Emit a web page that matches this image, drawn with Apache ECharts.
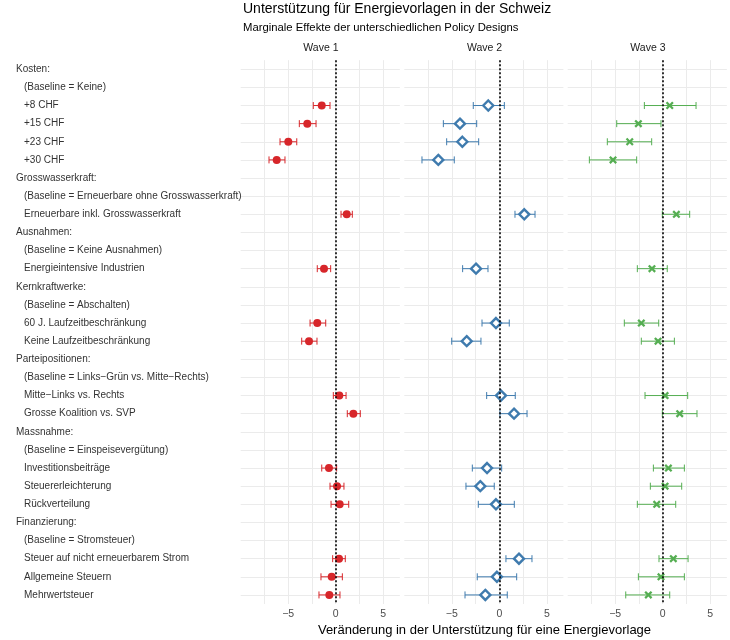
<!DOCTYPE html>
<html>
<head>
<meta charset="utf-8">
<script src="https://cdn.jsdelivr.net/npm/echarts@6/dist/echarts.min.js"></script>
<style>
html,body{margin:0;padding:0;background:#fff;}
#chart{width:730px;height:640px;}
</style>
</head>
<body>
<div id="chart"></div>
<script>
// ---- Data ----
const categories = [
  'Kosten:', '(Baseline = Keine)', '+8 CHF', '+15 CHF', '+23 CHF', '+30 CHF',
  'Grosswasserkraft:', '(Baseline = Erneuerbare ohne Grosswasserkraft)', 'Erneuerbare inkl. Grosswasserkraft',
  'Ausnahmen:', '(Baseline = Keine Ausnahmen)', 'Energieintensive Industrien',
  'Kernkraftwerke:', '(Baseline = Abschalten)', '60 J. Laufzeitbeschränkung', 'Keine Laufzeitbeschränkung',
  'Parteipositionen:', '(Baseline = Links\u2212Grün vs. Mitte\u2212Rechts)', 'Mitte\u2212Links vs. Rechts', 'Grosse Koalition vs. SVP',
  'Massnahme:', '(Baseline = Einspeisevergütung)', 'Investitionsbeiträge', 'Steuererleichterung', 'Rückverteilung',
  'Finanzierung:', '(Baseline = Stromsteuer)', 'Steuer auf nicht erneuerbarem Strom', 'Allgemeine Steuern', 'Mehrwertsteuer'
];
const isHeader = [1,0,0,0,0,0, 1,0,0, 1,0,0, 1,0,0,0, 1,0,0,0, 1,0,0,0,0, 1,0,0,0,0];
const waves = ['Wave 1', 'Wave 2', 'Wave 3'];
const xTicks = [-5, 0, 5];
const n = null;
const w1Est = [n,n,-1.47,-2.99,-4.99,-6.21, n,n,1.16, n,n,-1.23, n,n,-1.94,-2.81, n,n,0.38,1.86, n,n,-0.71,0.14,0.42, n,n,0.35,-0.42,-0.67];
const w1Lo  = [n,n,-2.36,-3.83,-5.86,-7.02, n,n,0.56, n,n,-1.94, n,n,-2.70,-3.58, n,n,-0.25,1.22, n,n,-1.47,-0.60,-0.49, n,n,-0.32,-1.55,-1.76];
const w1Hi  = [n,n,-0.60,-2.07,-4.10,-5.34, n,n,1.75, n,n,-0.53, n,n,-1.05,-1.97, n,n,1.09,2.59, n,n,0.10,0.87,1.37, n,n,1.01,0.70,0.45];
const w2Est = [n,n,-1.16,-4.14,-3.89,-6.42, n,n,2.63, n,n,-2.45, n,n,-0.35,-3.43, n,n,0.18,1.55, n,n,-1.29,-2.00,-0.35, n,n,2.07,-0.25,-1.47];
const w2Lo  = [n,n,-2.74,-5.89,-5.54,-8.14, n,n,1.65, n,n,-3.86, n,n,-1.82,-5.01, n,n,-1.33,0.07, n,n,-2.84,-3.51,-2.21, n,n,0.70,-2.32,-3.61];
const w2Hi  = [n,n,0.53,-2.38,-2.17,-4.74, n,n,3.76, n,n,-1.19, n,n,1.05,-1.93, n,n,1.68,2.92, n,n,0.25,-0.53,1.58, n,n,3.44,1.83,0.84];
const w3Est = [n,n,0.74,-2.56,-3.47,-5.23, n,n,1.44, n,n,-1.13, n,n,-2.25,-0.49, n,n,0.25,1.79, n,n,0.60,0.25,-0.63, n,n,1.12,-0.18,-1.51];
const w3Lo  = [n,n,-1.93,-4.84,-5.83,-7.72, n,n,-0.04, n,n,-2.67, n,n,-4.04,-2.25, n,n,-1.86,-0.04, n,n,-0.98,-1.30,-2.67, n,n,-0.39,-2.56,-3.89];
const w3Hi  = [n,n,3.51,-0.18,-1.16,-2.74, n,n,2.84, n,n,0.48, n,n,-0.42,1.23, n,n,2.63,3.61, n,n,2.28,2.00,1.37, n,n,2.67,2.28,0.74];

// ---- Styles ----
const FONT = 'Liberation Sans, Arial, sans-serif';
const colors = ['#D7262A', '#3F7BAE', '#55AE52'];
const xPath = 'path://M0,2 L2,0 L5,3 L8,0 L10,2 L7,5 L10,8 L8,10 L5,7 L2,10 L0,8 L3,5 Z';
const markerStyles = [
  {symbol: 'circle', symbolSize: 8, itemStyle: {color: colors[0], opacity: 1}},
  {symbol: 'diamond', symbolSize: 10, itemStyle: {color: '#ffffff', borderColor: colors[1], borderWidth: 2.4, opacity: 1}},
  {symbol: xPath, symbolSize: 8, itemStyle: {color: colors[2], opacity: 1}}
];
const est = [w1Est, w2Est, w3Est], lo = [w1Lo, w2Lo, w3Lo], hi = [w1Hi, w2Hi, w3Hi];

const pxPerUnit = 9.5;
const zeroX = [335.7, 499.3, 662.7];
const xMin = -10, xMax = 6.75;
const gridTop = 60.2, gridH = 543.8;

const grids = [], xAxes = [], yAxes = [], series = [], titles = [];
titles.push({text: 'Unterstützung für Energievorlagen in der Schweiz', left: 243, top: 2, padding: 0,
  textStyle: {fontFamily: FONT, fontSize: 14, fontWeight: 'normal', color: '#000'}});
titles.push({text: 'Marginale Effekte der unterschiedlichen Policy Designs', left: 243, top: 22, padding: 0,
  textStyle: {fontFamily: FONT, fontSize: 11.3, fontWeight: 'normal', color: '#000'}});

for (let k = 0; k < 3; k++) {
  const left = zeroX[k] + xMin * pxPerUnit;
  const width = (xMax - xMin) * pxPerUnit;
  grids.push({left: left, top: gridTop, width: width, height: gridH, containLabel: false});
  titles.push({text: waves[k], left: left + 1.3 + (width - 1.3) / 2, top: 43, textAlign: 'center', padding: 0,
    textStyle: {fontFamily: FONT, fontSize: 10.5, fontWeight: 'normal', color: '#1a1a1a'}});
  xAxes.push({
    type: 'value', gridIndex: k, min: xMin, max: xMax, interval: 2.5,
    axisLine: {show: false}, axisTick: {show: false},
    splitLine: {show: true, showMinLine: false, showMaxLine: false, lineStyle: {color: '#ebebeb', width: 1}},
    axisLabel: {
      show: true, margin: 5, color: '#4d4d4d', fontFamily: FONT, fontSize: 10.5,
      showMinLabel: false, showMaxLabel: false,
      formatter: function (v) {
        if (xTicks.indexOf(v) < 0) return '';
        return v < 0 ? '\u2212' + Math.abs(v) : String(v);
      }
    }
  });
  yAxes.push({
    type: 'category', gridIndex: k, data: categories, inverse: true, boundaryGap: true,
    axisLine: {show: false}, axisTick: {show: false, alignWithLabel: true},
    splitLine: {show: true, alignWithLabel: true, lineStyle: {color: '#ebebeb', width: 1}},
    axisLabel: {
      show: k === 0, align: 'left', margin: left - 16, interval: 0,
      fontFamily: FONT, fontSize: 10, color: '#333333',
      formatter: function (v, i) {
        return isHeader[i] ? '{h|' + v + '}' : '{i|' + v + '}';
      },
      rich: {
        h: {fontFamily: FONT, fontSize: 10, color: '#333333'},
        i: {fontFamily: FONT, fontSize: 10, color: '#333333', padding: [0, 0, 0, 8]}
      }
    }
  });
  const barData = [], ptData = [];
  for (let i = 0; i < categories.length; i++) {
    if (est[k][i] === null) continue;
    barData.push([lo[k][i], hi[k][i], i]);
    ptData.push([est[k][i], i]);
  }
  const col = colors[k];
  series.push({
    type: 'custom', xAxisIndex: k, yAxisIndex: k, data: barData,
    dimensions: ['lo', 'hi', 'cat'],
    encode: {x: ['lo', 'hi'], y: 'cat'}, silent: true,
    renderItem: function (params, api) {
      const a = api.coord([api.value(0), api.value(2)]);
      const b = api.coord([api.value(1), api.value(2)]);
      const h = 3.5;
      const st = {stroke: col, lineWidth: 1};
      return {type: 'group', children: [
        {type: 'line', shape: {x1: a[0], y1: a[1], x2: b[0], y2: b[1]}, style: st},
        {type: 'line', shape: {x1: a[0], y1: a[1] - h, x2: a[0], y2: a[1] + h}, style: st},
        {type: 'line', shape: {x1: b[0], y1: b[1] - h, x2: b[0], y2: b[1] + h}, style: st}
      ]};
    },
    z: 3
  });
  series.push(Object.assign({
    type: 'scatter', xAxisIndex: k, yAxisIndex: k, data: ptData, silent: true, z: 4,
    markLine: {
      silent: true, symbol: 'none', label: {show: false}, animation: false,
      lineStyle: {color: '#000', type: [2, 2], width: 1.6},
      data: [{xAxis: 0}]
    }
  }, markerStyles[k]));
}

const chart = echarts.init(document.getElementById('chart'), null, {renderer: 'canvas'});
chart.setOption({
  animation: false,
  backgroundColor: '#ffffff',
  title: titles.concat([{
    text: 'Veränderung in der Unterstützung für eine Energievorlage', left: 484.5, top: 624, textAlign: 'center', padding: 0,
    textStyle: {fontFamily: FONT, fontSize: 13, fontWeight: 'normal', color: '#000'}
  }]),
  grid: grids, xAxis: xAxes, yAxis: yAxes, series: series
});
</script>
</body>
</html>
